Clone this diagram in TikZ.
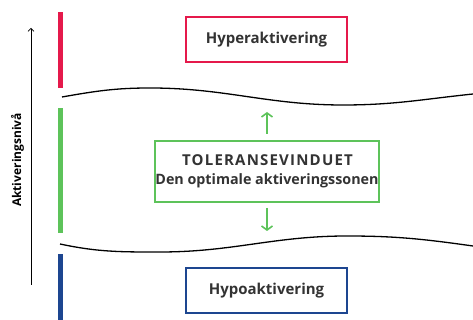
\documentclass[tikz,border=0pt]{standalone}
\usepackage{fontspec}
\setmainfont{Open Sans}
\usepackage{xcolor}
\usetikzlibrary{arrows.meta, positioning, calc}
\definecolor{hyperred}{HTML}{E5194B}
\definecolor{tolgreen}{HTML}{5DC35A}
\definecolor{hypoblue}{HTML}{1D4690}
\definecolor{textgray}{HTML}{333333}
\begin{document}
\begin{tikzpicture}[x=1pt, y=1pt,
    zone/.style={draw, line width=2pt, fill=white, text=textgray, align=center, inner sep=0pt,
        font=\bfseries\fontsize{15}{19}\selectfont},
    bar/.style={line width=5.5pt},
    wave/.style={line width=1.3pt, black},
    shiftarrow/.style={tolgreen, line width=1.6pt, -{Straight Barb[length=4pt, width=11pt, line width=1.6pt]}}]
    \useasboundingbox (0,0) rectangle (473,320);
    % zones
    \node[zone, draw=hyperred, minimum width=161pt, minimum height=45pt] (hyper) at (266.5,280.5) {Hyperaktivering};
    \node[zone, draw=tolgreen, minimum width=222pt, minimum height=61pt, text depth=4pt] (tol) at (267,148.5)
        {{\addfontfeature{LetterSpace=8}TOLERANSEVINDUET\kern-1pt}\\
         {\fontsize{14.3}{19}\selectfont Den optimale aktiveringssonen}};
    \node[zone, draw=hypoblue, minimum width=161pt, minimum height=45pt] (hypo) at (266.5,29.5) {Hypoaktivering};
    % level bars
    \draw[bar, hyperred] (60.5,232) -- (60.5,308);
    \draw[bar, tolgreen] (60.5,87) -- (60.5,212);
    \draw[bar, hypoblue] (60.5,0) -- (60.5,66);
    % window borders
    \draw[wave] (62,223) to[out=10, in=180] (150,232) to[out=0, in=180] (343,215) to[out=0, in=186] (473,226);
    \draw[wave] (60,76) to[out=-12, in=180] (160,68) to[out=0, in=180] (347,84) to[out=0, in=172] (473,74);
    % arrows
    \draw[shiftarrow] ($(tol.north)+(0,6)$) -- ($(tol.north)+(0,28)$);
    \draw[shiftarrow] ($(tol.south)+(0,-5)$) -- ($(tol.south)+(0,-28)$);
    % axis
    \coordinate (axbot) at (31,35);
    \coordinate (axtop) at (31,292);
    \draw[line width=0.7pt, -{Straight Barb[length=3pt, width=6pt]}] (axbot) -- (axtop);
    \node[rotate=90, text=black, font=\bfseries\fontsize{12}{14}\selectfont] (axlabel) at (17.5,160) {Aktiveringsnivå};
\end{tikzpicture}
\end{document}
